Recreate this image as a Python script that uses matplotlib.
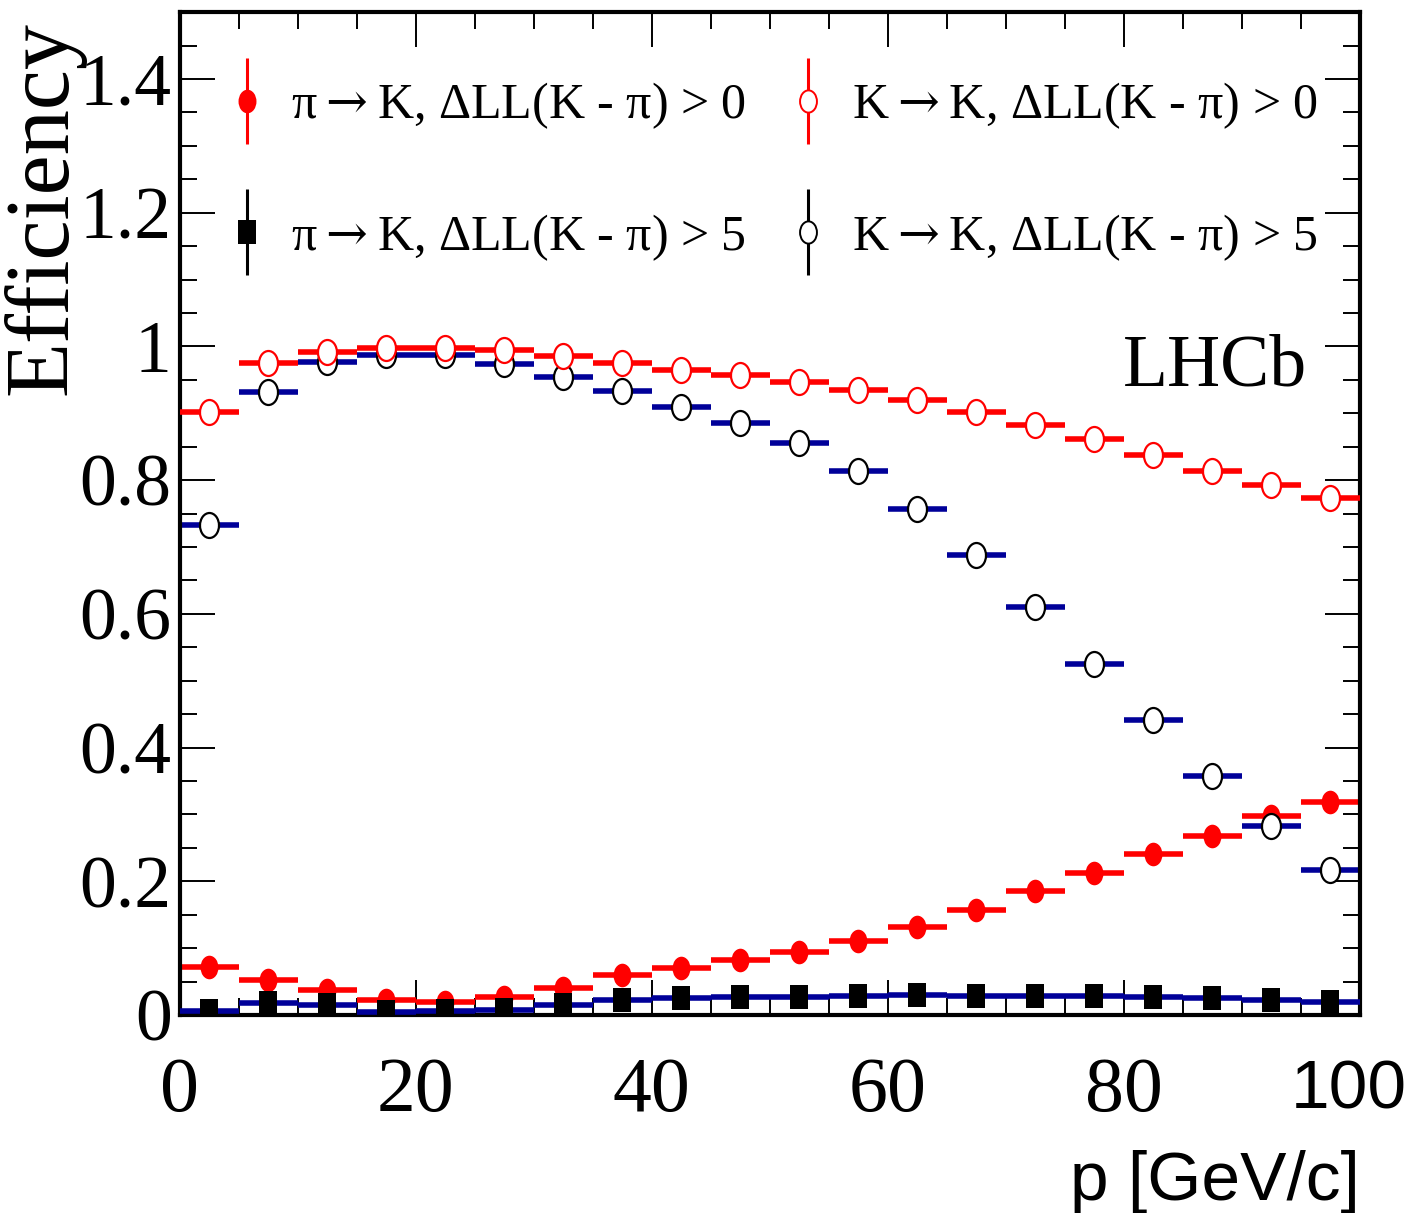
import numpy as np
import matplotlib
matplotlib.use("Agg")
import matplotlib.pyplot as plt
from matplotlib.path import Path
from matplotlib.legend_handler import HandlerErrorbar
from matplotlib.ticker import MultipleLocator, FuncFormatter

# bin centres (GeV/c), bins are 5 GeV/c wide
p_centres = np.arange(2.5, 100, 5.0)
half_bin = 2.5

# pi -> K, DLL(K-pi) > 0
eff_pi_dll0 = [0.072, 0.052, 0.037, 0.022, 0.020, 0.027, 0.040, 0.060, 0.070, 0.082,
               0.094, 0.111, 0.132, 0.157, 0.186, 0.213, 0.241, 0.268, 0.298, 0.318]
# pi -> K, DLL(K-pi) > 5
eff_pi_dll5 = [0.006, 0.018, 0.015, 0.005, 0.006, 0.008, 0.015, 0.022, 0.025, 0.027,
               0.027, 0.028, 0.030, 0.028, 0.028, 0.028, 0.027, 0.025, 0.022, 0.020]
# K -> K, DLL(K-pi) > 0
eff_k_dll0 = [0.902, 0.975, 0.992, 0.998, 0.997, 0.994, 0.985, 0.975, 0.965, 0.957,
              0.947, 0.935, 0.920, 0.902, 0.882, 0.861, 0.837, 0.814, 0.793, 0.774]
# K -> K, DLL(K-pi) > 5
eff_k_dll5 = [0.733, 0.932, 0.976, 0.987, 0.987, 0.973, 0.954, 0.933, 0.909, 0.885,
              0.855, 0.813, 0.757, 0.688, 0.610, 0.525, 0.441, 0.358, 0.282, 0.217]

labels = [r"π$\rightarrow$K, ΔLL(K - π) > 0",
          r"π$\rightarrow$K, ΔLL(K - π) > 5",
          r"K$\rightarrow$K, ΔLL(K - π) > 0",
          r"K$\rightarrow$K, ΔLL(K - π) > 5"]

plt.rcParams['font.family'] = ['Liberation Serif', 'DejaVu Serif']
plt.rcParams['mathtext.fontset'] = 'dejavuserif'

# markers look a bit stretched vertically in the original
circ = Path.unit_circle()
ellipse = Path(circ.vertices * [0.76, 1.0], circ.codes)
rect = Path([(-0.39, -0.5), (0.39, -0.5), (0.39, 0.5), (-0.39, 0.5), (-0.39, -0.5)],
            [Path.MOVETO, Path.LINETO, Path.LINETO, Path.LINETO, Path.CLOSEPOLY])

red = '#ff0000'
navy = '#000099'

fig = plt.figure(figsize=(14.18, 12.13), dpi=100)
ax = fig.add_axes([0.1269, 0.1632, 0.8321, 0.8268])

bar_lw = 4.0
ax.errorbar(p_centres, eff_pi_dll0, xerr=half_bin, fmt='none', ecolor=red, elinewidth=bar_lw, zorder=2)
ax.plot(p_centres, eff_pi_dll0, ls='none', marker=ellipse, ms=17, mfc=red, mec=red, mew=0, zorder=3)

ax.errorbar(p_centres, eff_pi_dll5, xerr=half_bin, fmt='none', ecolor=navy, elinewidth=bar_lw, zorder=4)
ax.plot(p_centres, eff_pi_dll5, ls='none', marker=rect, ms=17, mfc='black', mec='black', mew=0, zorder=5)

ax.errorbar(p_centres, eff_k_dll5, xerr=half_bin, fmt='none', ecolor=navy, elinewidth=bar_lw, zorder=2)
ax.plot(p_centres, eff_k_dll5, ls='none', marker=ellipse, ms=18, mfc='white', mec='black', mew=1.6, zorder=3)

ax.errorbar(p_centres, eff_k_dll0, xerr=half_bin, fmt='none', ecolor=red, elinewidth=bar_lw, zorder=4)
ax.plot(p_centres, eff_k_dll0, ls='none', marker=ellipse, ms=18, mfc='white', mec=red, mew=1.6, zorder=5)

# legend proxies with vertical bars like the ROOT legend
h1 = ax.errorbar([np.nan], [np.nan], yerr=[1], marker=ellipse, ls='none', ms=17, mfc=red, mec=red, mew=0, ecolor=red, elinewidth=2.2)
h2 = ax.errorbar([np.nan], [np.nan], yerr=[1], marker=rect, ls='none', ms=17, mfc='black', mec='black', mew=0, ecolor='black', elinewidth=2.2)
h3 = ax.errorbar([np.nan], [np.nan], yerr=[1], marker=ellipse, ls='none', ms=16, mfc='white', mec=red, mew=1.4, ecolor=red, elinewidth=2.2)
h4 = ax.errorbar([np.nan], [np.nan], yerr=[1], marker=ellipse, ls='none', ms=16, mfc='white', mec='black', mew=1.4, ecolor='black', elinewidth=2.2)

leg = ax.legend([h1, h2, h3, h4], labels, ncol=2, loc='upper left',
                bbox_to_anchor=(0.027, 0.952), frameon=False, fontsize=36,
                handlelength=0.6, handletextpad=0.58, columnspacing=0.95,
                labelspacing=1.62, borderaxespad=0.0,
                handler_map={type(h1): HandlerErrorbar(yerr_size=0.86)})

ax.text(0.955, 0.628, 'LHCb', transform=ax.transAxes, ha='right', va='baseline', fontsize=53)

ax.set_xlim(0, 100)
ax.set_ylim(0, 1.5)
ax.xaxis.set_major_locator(MultipleLocator(20))
ax.xaxis.set_minor_locator(MultipleLocator(5))
ax.yaxis.set_major_locator(MultipleLocator(0.2))
ax.yaxis.set_minor_locator(MultipleLocator(0.05))
ax.yaxis.set_major_formatter(FuncFormatter(lambda v, pos: '%g' % round(v, 2)))
# the "100" label is set separately in a sans font, as in the original
ax.xaxis.set_major_formatter(FuncFormatter(lambda v, pos: '' if v >= 100 else '%g' % v))

ax.tick_params(which='both', direction='in', top=True, right=True, width=1.4, color='black')
ax.tick_params(which='major', length=25)
ax.tick_params(which='minor', length=12)
ax.tick_params(axis='y', labelsize=53, pad=6)
ax.tick_params(axis='x', labelsize=56, pad=30)
for sp in ax.spines.values():
    sp.set_linewidth(3.0)

ax.annotate('100', xy=(100, 0), xycoords=('data', 'axes fraction'),
            xytext=(-8, -31), textcoords='offset points', ha='center', va='top',
            fontsize=50, fontfamily='Liberation Sans')

ax.set_ylabel('Efficiency', fontsize=65, ha='center', va='center')
ax.yaxis.set_label_coords(-0.115, 0.805)
ax.set_xlabel('p [GeV/c]', fontsize=50, loc='right', fontfamily='Liberation Sans')
ax.xaxis.set_label_coords(1.0, -0.135)

fig.savefig('out.png', dpi=100)
